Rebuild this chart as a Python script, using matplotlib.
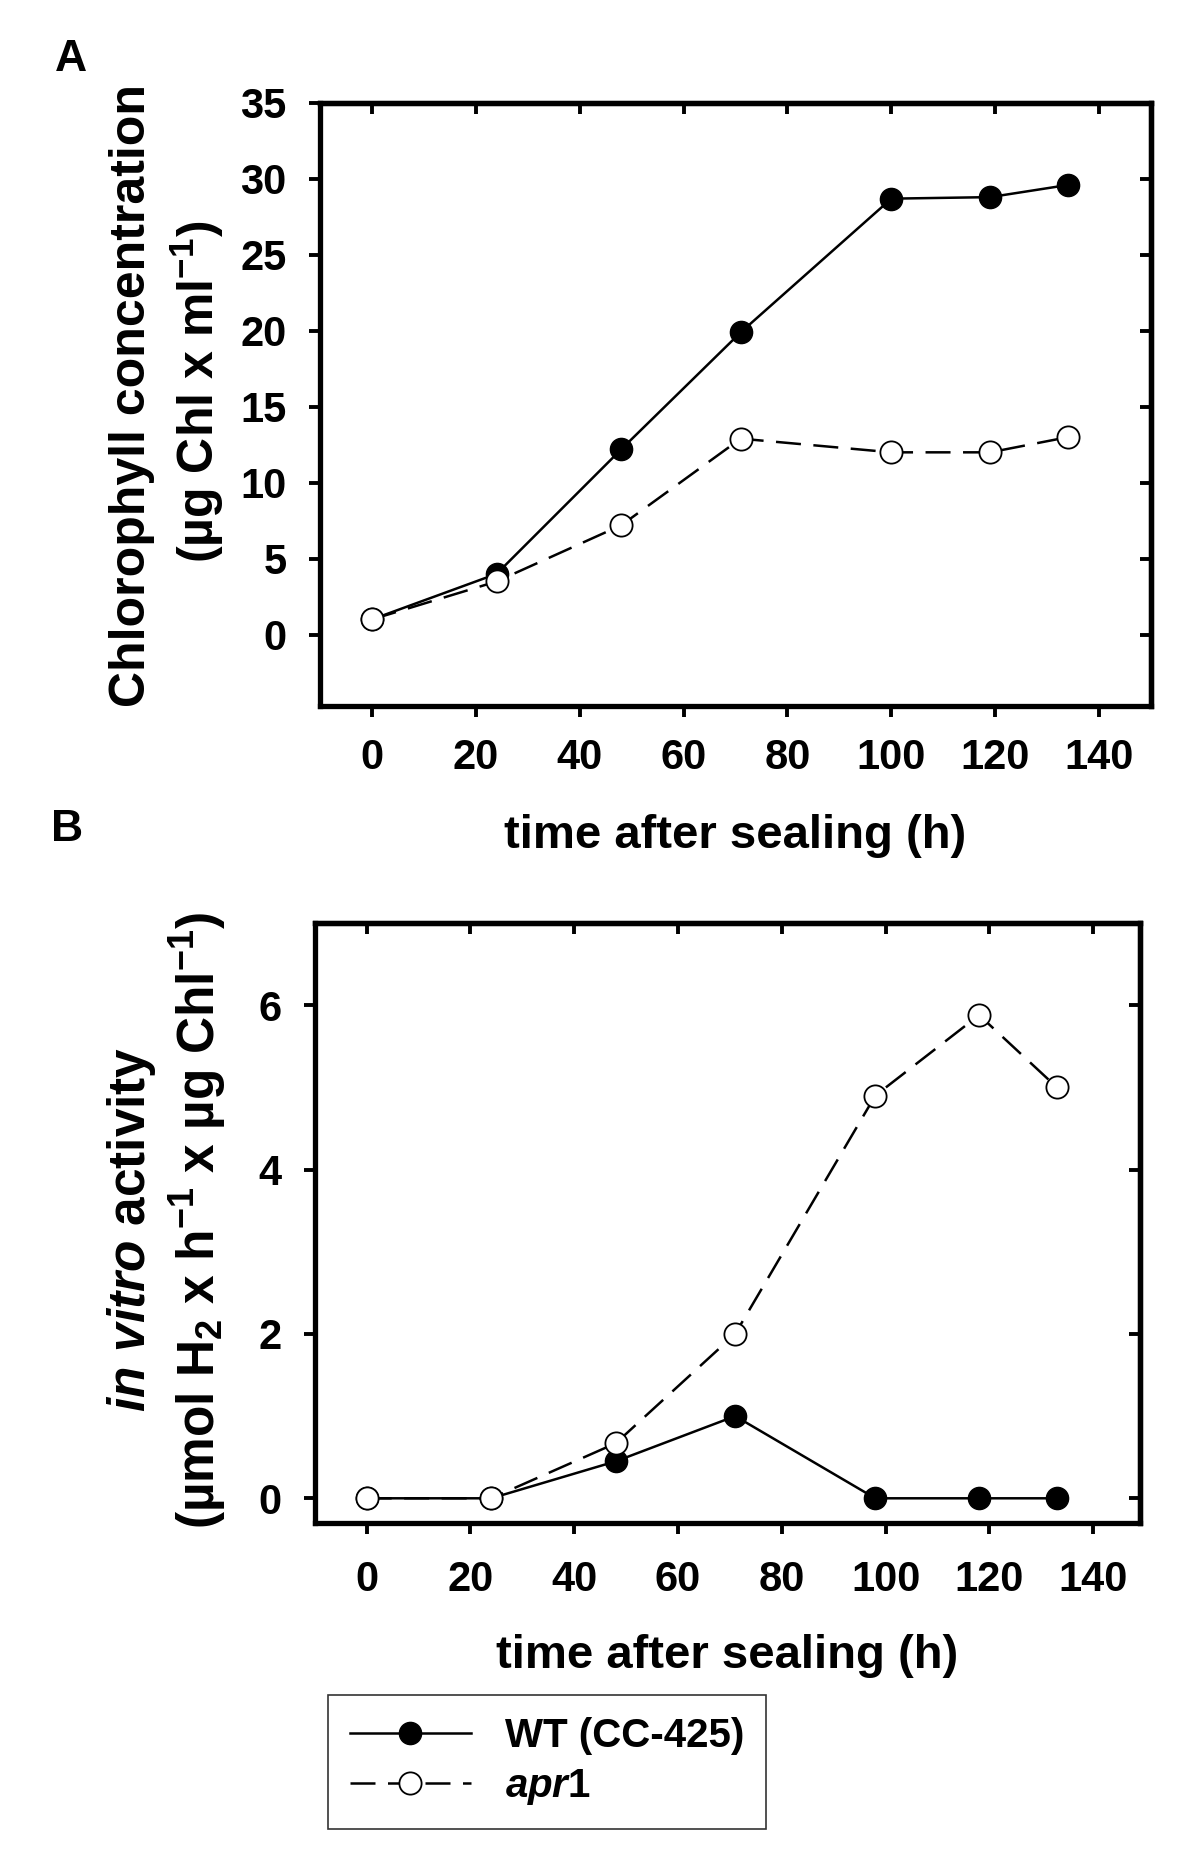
import matplotlib
matplotlib.use("Agg")
import matplotlib.pyplot as plt
from matplotlib.lines import Line2D

plt.rcParams['font.family'] = ['Liberation Sans', 'DejaVu Sans']
plt.rcParams['font.weight'] = 'bold'
plt.rcParams['mathtext.fontset'] = 'custom'
plt.rcParams['mathtext.rm'] = 'Liberation Sans:bold'
plt.rcParams['mathtext.it'] = 'Liberation Sans:italic:bold'
plt.rcParams['mathtext.bf'] = 'Liberation Sans:bold'
plt.rcParams['mathtext.default'] = 'rm'

# Panel A data
time_a = [0, 24, 48, 71, 100, 119, 134]
chl_wt = [1.0, 4.0, 12.2, 19.9, 28.7, 28.8, 29.6]
chl_apr = [1.0, 3.5, 7.2, 12.9, 12.0, 12.0, 13.0]

# Panel B data
time_b = [0, 24, 48, 71, 98, 118, 133]
act_wt = [0.0, 0.0, 0.45, 1.0, 0.0, 0.0, 0.0]
act_apr = [0.0, 0.0, 0.67, 2.0, 4.9, 5.88, 5.0]

xticks = [0, 20, 40, 60, 80, 100, 120, 140]
yticks_a = [0, 5, 10, 15, 20, 25, 30, 35]
yticks_b = [0, 2, 4, 6]

fig = plt.figure(figsize=(12, 18.55), dpi=100)

LW_FRAME = 3.8
TICK_W = 2.8
TICK_L = 8
MS = 16
LW = 1.8
dash = (0, (10, 5))
TICK_FS = 30
XLAB_FS = 34


def style_axes(ax, xpad):
    for s in ax.spines.values():
        s.set_linewidth(LW_FRAME)
    ax.tick_params(axis='both', which='major', length=TICK_L, width=TICK_W,
                   labelsize=TICK_FS)
    ax.tick_params(axis='x', direction='out', top=False, pad=xpad)
    ax.tick_params(axis='y', direction='out', right=False, pad=16)
    for lab in ax.get_xticklabels() + ax.get_yticklabels():
        lab.set_fontweight('bold')
    sx = ax.secondary_xaxis('top')
    sx.set_xticks(ax.get_xticks())
    sx.tick_params(direction='in', length=TICK_L, width=TICK_W, labeltop=False)
    sx.spines['top'].set_linewidth(LW_FRAME)
    sy = ax.secondary_yaxis('right')
    sy.set_yticks(ax.get_yticks())
    sy.tick_params(direction='in', length=TICK_L, width=TICK_W, labelright=False)
    sy.spines['right'].set_linewidth(LW_FRAME)


def plot_series(ax, x, wt, apr):
    ax.plot(x, wt, color='black', lw=LW, linestyle='-',
            marker='o', ms=MS, mfc='black', mec='black', zorder=3)
    ax.plot(x, apr, color='black', lw=LW, linestyle=dash,
            marker='o', ms=MS, mfc='white', mec='black', mew=1.3, zorder=4)


# Panel A
axA = fig.add_axes([0.2667, 0.6194, 0.6925, 0.3251])
plot_series(axA, time_a, chl_wt, chl_apr)
axA.set_xlim(-10, 150)
axA.set_ylim(-4.7, 35)
axA.set_xticks(xticks)
axA.set_yticks(yticks_a)
style_axes(axA, 15)
axA.set_xlabel('time after sealing (h)', fontsize=XLAB_FS, fontweight='bold', labelpad=26)
fig.text(0.110, 0.787, 'Chlorophyll concentration', rotation=90, ha='center',
         va='center', fontsize=36, fontweight='bold')
fig.text(0.164, 0.789, '(µg Chl x ml$^{-1}$)', rotation=90,
         ha='center', va='center', fontsize=36, fontweight='bold')
fig.text(0.059, 0.968, 'A', fontsize=32, fontweight='bold', ha='center', va='center')

# Panel B
axB = fig.add_axes([0.2623, 0.179, 0.6877, 0.3234])
plot_series(axB, time_b, act_wt, act_apr)
axB.set_xlim(-10, 149)
axB.set_ylim(-0.3, 7)
axB.set_xticks(xticks)
axB.set_yticks(yticks_b)
style_axes(axB, 19)
axB.set_xlabel('time after sealing (h)', fontsize=XLAB_FS, fontweight='bold', labelpad=24)
fig.text(0.110, 0.3375, r'$\mathit{in\ vitro}$ activity', rotation=90, ha='center',
         va='center', fontsize=37, fontweight='bold')
fig.text(0.165, 0.342,
         '(µmol H$_{2}$ x h$^{-1}$ x µg Chl$^{-1}$)',
         rotation=90, ha='center', va='center', fontsize=37, fontweight='bold')
fig.text(0.056, 0.553, 'B', fontsize=32, fontweight='bold', ha='center', va='center')

# Legend
handles = [
    Line2D([], [], color='black', lw=LW, linestyle='-', marker='o', ms=MS,
           mfc='black', mec='black'),
    Line2D([], [], color='black', lw=LW, linestyle=dash, marker='o', ms=MS,
           mfc='white', mec='black', mew=1.3),
]
labels = ['WT (CC-425)', r'$\mathit{apr}$1']
leg = fig.legend(handles, labels, loc='upper left', bbox_to_anchor=(0.273, 0.0865),
                 frameon=True, fancybox=False, edgecolor='black', handlelength=3.0,
                 prop={'size': 29, 'weight': 'bold'},
                 borderpad=0.55, labelspacing=0.3, handletextpad=0.85, borderaxespad=0)
leg.get_frame().set_linewidth(1.2)

fig.savefig('out.png', dpi=100, facecolor='white')
